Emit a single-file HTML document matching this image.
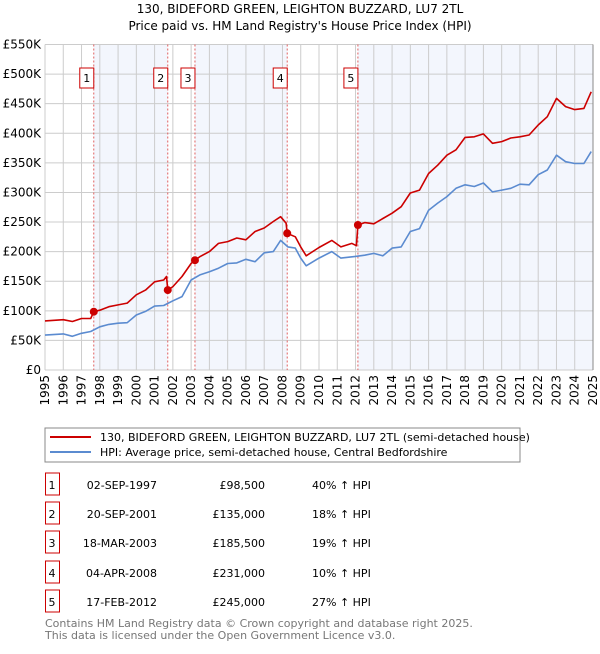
<!DOCTYPE html>
<html><head><meta charset="utf-8"><style>
body{margin:0;background:#fff;font-family:"DejaVu Sans","Liberation Sans",sans-serif;}
svg text{font-family:"DejaVu Sans","Liberation Sans",sans-serif;}
</style></head><body>
<svg id="chart" width="600" height="650" xmlns="http://www.w3.org/2000/svg">
<text x="300" y="13" text-anchor="middle" font-size="12">130, BIDEFORD GREEN, LEIGHTON BUZZARD, LU7 2TL</text>
<text x="300" y="30" text-anchor="middle" font-size="12">Price paid vs. HM Land Registry's House Price Index (HPI)</text>
<g id="plot"></g>
<rect x="45" y="428" width="475" height="34" fill="#fff" stroke="#888"/>
<line x1="50" y1="437" x2="91" y2="437" stroke="#cc0000" stroke-width="2"/>
<text x="100" y="441" font-size="11">130, BIDEFORD GREEN, LEIGHTON BUZZARD, LU7 2TL (semi-detached house)</text>
<line x1="50" y1="452" x2="91" y2="452" stroke="#5b8bd0" stroke-width="2"/>
<text x="100" y="456" font-size="11">HPI: Average price, semi-detached house, Central Bedfordshire</text>
<g id="table"></g>
<text x="45" y="627" font-size="11" fill="#777">Contains HM Land Registry data © Crown copyright and database right 2025.</text>
<text x="45" y="639" font-size="11" fill="#777">This data is licensed under the Open Government Licence v3.0.</text>
</svg>
<script>
const hpiYears=[1995,1996,1996.5,1997,1997.5,1998,1998.5,1999,1999.5,2000,2000.5,2001,2001.5,2002,2002.5,2003,2003.5,2004,2004.5,2005,2005.5,2006,2006.5,2007,2007.5,2007.9,2008.3,2008.7,2009,2009.3,2010,2010.7,2011.2,2012,2012.5,2013,2013.5,2014,2014.5,2015,2015.5,2016,2016.5,2017,2017.5,2018,2018.5,2019,2019.5,2020,2020.5,2021,2021.5,2022,2022.5,2023,2023.5,2024,2024.5,2024.9];
const hpiValues=[59,61,57,62,65,73,77,79,80,93,99,108,109,117,124,152,161,166,172,180,181,187,183,198,200,219,208,206,189,176,189,200,189,192,194,197,193,206,208,234,239,270,282,293,307,313,310,316,301,304,307,314,313,330,338,363,352,349,349,369];
const redYears=[1995,1996,1996.5,1997,1997.5,1997.67,1998,1998.5,1999,1999.5,2000,2000.5,2001,2001.5,2001.65,2001.72,2002,2002.5,2003,2003.21,2003.5,2004,2004.5,2005,2005.5,2006,2006.5,2007,2007.5,2007.9,2008.2,2008.26,2008.7,2009,2009.3,2010,2010.7,2011.2,2011.8,2012.05,2012.13,2012.5,2013,2013.5,2014,2014.5,2015,2015.5,2016,2016.5,2017,2017.5,2018,2018.5,2019,2019.5,2020,2020.5,2021,2021.5,2022,2022.5,2023,2023.5,2024,2024.5,2024.9];
const redValues=[83,85,82,87,87,98.5,101,107,110,113,127,135,149,152,158,135,141,158,180,185.5,192,200,214,217,223,220,234,240,251,259,248,231,225,208,193,207,219,208,214,210,245,249,247,256,265,276,299,304,332,346,363,372,393,394,399,383,386,392,394,397,414,428,459,445,440,442,470];
const saleLabels=["1","2","3","4","5"];
const saleYears=[1997.67,2001.72,2003.21,2008.26,2012.13];
const salePrices=[98.5,135,185.5,231,245];
const saleDates=["02-SEP-1997","20-SEP-2001","18-MAR-2003","04-APR-2008","17-FEB-2012"];
const salePriceText=["£98,500","£135,000","£185,500","£231,000","£245,000"];
const salePct=["40% ↑ HPI","18% ↑ HPI","19% ↑ HPI","10% ↑ HPI","27% ↑ HPI"];
const yTicks=[0,50,100,150,200,250,300,350,400,450,500,550];
const yTickLabels=["£0","£50K","£100K","£150K","£200K","£250K","£300K","£350K","£400K","£450K","£500K","£550K"];
const xTicks=[1995,1996,1997,1998,1999,2000,2001,2002,2003,2004,2005,2006,2007,2008,2009,2010,2011,2012,2013,2014,2015,2016,2017,2018,2019,2020,2021,2022,2023,2024,2025];

const L=45,R=593,T=44.5,B=370;
const xs=y=>L+(y-1995)/(2025-1995)*(R-L);
const ys=v=>B-v/550*(B-T);
const NS="http://www.w3.org/2000/svg";
const plot=document.getElementById('plot');
function mk(tag,attrs,parent){const e=document.createElementNS(NS,tag);for(const k in attrs)e.setAttribute(k,attrs[k]);(parent||plot).appendChild(e);return e;}

const shadeStarts=[0,2,4];
shadeStarts.forEach((i,j)=>{
  const x1=xs(saleYears[i]);const x2=i+1<saleYears.length?xs(saleYears[i+1]):R;
  const r=mk('rect',{x:x1,y:T,width:x2-x1,height:B-T,fill:'#eef2fc',opacity:0.7});
  
  
});
yTicks.forEach((v,i)=>{
  const l=mk('line',{x1:L,x2:R,y1:ys(v),y2:ys(v),stroke:'#cccccc','stroke-width':1});
  
  
  const t=mk('text',{x:L-4,y:ys(v)+4,'text-anchor':'end','font-size':12});
  t.textContent=yTickLabels[i];
  
  
});
xTicks.forEach(y=>{
  const l=mk('line',{x1:xs(y),x2:xs(y),y1:T,y2:B,stroke:'#cccccc','stroke-width':1});
  
  
  const t=mk('text',{x:0,y:0,'text-anchor':'end','font-size':12,transform:`translate(${xs(y)+4},${B+5}) rotate(-90)`});
  t.textContent=y;
  
  
});
const ax=mk('line',{x1:R,x2:R,y1:T,y2:B,stroke:'#888','stroke-width':1});


saleYears.forEach((y,i)=>{
  const l=mk('line',{x1:xs(y),x2:xs(y),y1:T,y2:B,stroke:'#e06060','stroke-width':1,'stroke-dasharray':'2,2'});
  
  
  const b=mk('rect',{x:xs(y)-14,y:68,width:14,height:20,fill:'#fff',stroke:'#cc0000','stroke-width':1});
  
  
  const t=mk('text',{x:xs(y)-7,y:82,'text-anchor':'middle','font-size':11});
  t.textContent=saleLabels[i];
  
  
});
function line(xa,va,color,name){
  const d=xa.map((x,i)=>(i?'L':'M')+xs(x).toFixed(1)+','+ys(va[i]).toFixed(1)).join('');
  const p=mk('path',{d,fill:'none',stroke:color,'stroke-width':1.6,'stroke-linejoin':'round'});
  
  
}
line(hpiYears,hpiValues,'#5b8bd0','hpi-line');
line(redYears,redValues,'#cc0000','property-price-line');
saleYears.forEach((y,i)=>{
  const c=mk('circle',{cx:xs(y),cy:ys(salePrices[i]),r:4,fill:'#cc0000'});
  
  
});
const tbl=document.getElementById('table');
const rowY=[487,516,545,575,604];
saleLabels.forEach((s,i)=>{
  const y=rowY[i];
  const b=mk('rect',{x:45.5,y:y-14,width:14,height:22,fill:'#fff',stroke:'#cc0000'},tbl);
  
  
  const cols=[[52,'middle',s,'table-num'],[157,'end',saleDates[i],'table-date'],[265,'end',salePriceText[i],'table-price'],[312,'start',salePct[i],'table-hpi-change']];
  cols.forEach(c=>{
    const t=mk('text',{x:c[0],y:y+2,'text-anchor':c[1],'font-size':11},tbl);
    t.textContent=c[2];
    
    
  });
});
</script>
</body></html>
